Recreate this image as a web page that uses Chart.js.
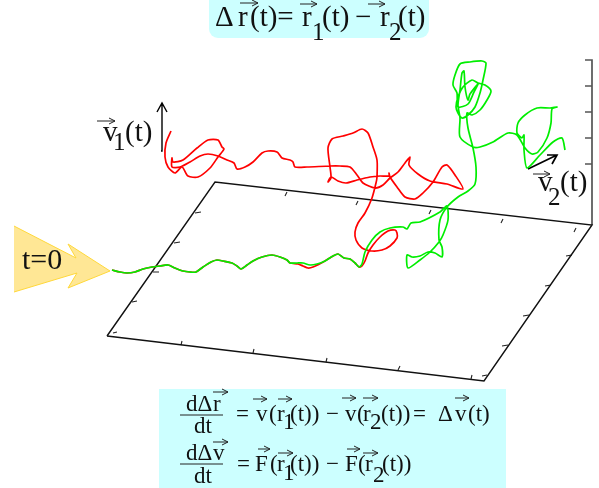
<!DOCTYPE html>
<html><head><meta charset="utf-8">
<script src="https://cdn.jsdelivr.net/npm/chart.js@4"></script>
<style>
html,body{margin:0;padding:0;background:#fff;overflow:hidden}
#wrap{position:relative;width:599px;height:488px;overflow:hidden}
#under,#over{position:absolute;left:0;top:0}
#c{position:absolute;left:0;top:0}
.t{position:absolute;font-family:"Liberation Serif",serif;color:#111;line-height:1;white-space:pre}
</style></head><body>
<div id="wrap">
<svg id="under" width="599" height="488">
 <rect x="209" y="-10" width="220" height="48" rx="9" fill="#ccffff"/>
 <rect x="159" y="389" width="347" height="99" fill="#ccffff"/>
 <polygon points="14,226 76,258 68,244 110,271 68,288 77,273 14,292" fill="#ffe795"/>
 <polyline points="14,226 76,258 68,244 110,271 68,288 77,273 14,292" fill="none" stroke="#ffd83a" stroke-width="1"/>
</svg>
<canvas id="c" width="599" height="488" style="width:599px;height:488px"></canvas>
<svg id="over" width="599" height="488"></svg>
<div id="labels"></div>
</div>
<script>
// Shared start of both trajectories and their separate continuations
const sharedStart=[[112,270],[120,272],[127,273],[135,272],[143,269],[152,267],[160,266],[168,265],[175,268],[183,271],[190,272],[196,272],[203,267],[211,262],[217,260],[223,261],[232,263],[237,266],[241,269],[247,265],[253,261],[262,257],[272,255],[280,257],[287,260],[290,263]];
const greenMiddle=[[297,263],[303,263],[310,265],[317,264],[325,261],[333,256],[338,254],[344,258],[350,259],[355,263],[359,267]];
const redMiddle=[[298,264],[303,266],[308,268],[313,267],[325,261],[333,256],[338,254],[344,258],[350,259],[355,263],[359,267]];
const redTail=[[362,266],[365,261],[368,253],[373,245],[380,237],[388,231],[395,230],[397,233],[397,238],[390,246],[382,250],[372,251],[362,248],[356,240],[355,232],[358,223],[365,213],[372,198],[376,183],[377,177],[377,160],[373,147],[368,133],[362,129],[353,133],[343,136],[332,139],[328,148],[330,167],[331,178],[328,182],[331,177],[338,181],[346,183],[357,180],[370,177],[380,176],[389,176],[389,173],[390,177],[397,187],[405,197],[415,199],[423,193],[433,182],[442,167],[447,165],[455,175],[463,189],[447,184],[430,181],[418,174],[409,165],[410,157],[405,163],[398,172],[390,178],[383,185],[375,188],[363,183],[357,175],[350,167],[340,166],[330,166],[307,167],[295,167],[293,162],[290,160],[282,158],[277,152],[268,151],[262,153],[253,162],[245,167],[237,169],[234,163],[227,160],[218,156],[208,154],[200,156],[190,162],[180,167],[172,167],[172,158],[173,162],[183,160],[197,148],[208,140],[218,140],[222,147],[224,149],[218,157],[210,168],[198,177],[188,176],[182,167],[175,173],[168,167],[165,157],[166,143],[171,131]];
const greenTail=[[362,264],[365,252],[372,240],[380,232],[390,228],[403,227],[407,229],[411,223],[420,222],[440,212],[447,206],[448,220],[443,235],[439,242],[430,252],[420,260],[408,268],[407,255],[412,257],[420,256],[428,252],[435,253],[442,257],[442,247],[439,240],[440,220],[447,207],[458,197],[468,191],[475,184],[476,167],[473,148],[468,128],[467,113],[472,115],[480,110],[487,100],[491,91],[485,85],[478,83],[472,80],[463,87],[458,97],[456,107],[458,113],[462,118],[468,115],[475,107],[480,93],[483,80],[486,63],[482,61],[470,62],[460,64],[455,75],[453,85],[457,93],[458,107],[468,104],[474,92],[478,84],[470,94],[468,100],[465,87],[464,71],[462,73],[460,90],[458,105],[460,118],[460,137],[473,147],[480,147],[493,142],[508,133],[517,135],[525,148],[532,154],[538,152],[547,138],[551,123],[552,109],[557,107],[550,108],[537,108],[525,115],[518,123],[517,133],[522,138],[524,135],[524,150],[527,168],[540,155],[553,142],[562,138],[565,150]];
// Box frame: floor outline and tick marks, NaN separates pieces
const G=[NaN,NaN];
const floorOutline=[[107,336],[484,381],[592,225],[215,182],[107,336]];
const floorTicks=[G,[181,345],[182,341],G,[253,353],[254,349],G,[326,362],[327,358],G,[398,370],[400,366],G,[471,379],[472,375],G,[113,333],[117,332],G,[132,302],[137,301],G,[153,272],[159,272],G,[174,243],[180,242],G,[195,213],[201,212],G,[487,375],[482,376],G,[508,345],[502,346],G,[529,315],[523,316],G,[551,285],[545,286],G,[572,255],[566,256],G,[287,192],[285,196],G,[358,201],[356,205],G,[431,210],[429,214],G,[503,219],[501,223],G,[576,228],[574,232]];
const zAxis=[[592,225],[592,60],[585,60],G,[592,86],[585,86],G,[592,112],[585,112],G,[592,138],[585,138],G,[592,164],[585,164]];
const v1Arrow=[[161,151],[162,103],G,[157,112],[162,103],[167,112]];
const v2Arrow=[[528,169],[557,155],G,[547,155],[557,155],[552,164]];
// Formula text fragments: string, left, baseline, font size
const S=29,E=23;
const textPieces=[
["Δ",215,27,S],["r",238,27,S],["(t)=",250,27,S],["r",302,27,S],["1",312,40,S-4],["(t)",322,27,S],["−",355,27,S],["r",380,27,S],["2",389,40,S-4],["(t)",398,27,S],
["v",103,142,S],["1",113,150,S-4],["(t)",125,142,S],
["v",538,192,S],["2",548,205,S-4],["(t)",560,192,S],
["t=0",22,270,S+1],
["dΔ",186,412,E],["r",213,412,E],["dt",194,434,E],["=",236,422,E],["v",256,422,E],["(",269,422,E],["r",277,422,E],["1",283,430,E],["(t))",290,422,E],["−",326,422,E],["v",345,422,E],["(",357,422,E],["r",363,422,E],["2",370,430,E],["(t))",381,422,E],["=",413,422,E],["Δ",438,422,E],["v",455,422,E],["(t)",468,422,E],
["dΔ",186,461,E],["v",213,461,E],["dt",194,484,E],["=",237,472,E],["F",255,472,E],["(",270,472,E],["r",277,472,E],["1",283,481,E],["(t))",290,472,E],["−",326,472,E],["F",345,472,E],["(",358,472,E],["r",365,472,E],["2",373,483,E],["(t))",382,472,E]
];
const vectorBars=[[240,258,3],[300,317,4],[368,385,4],[97,115,121],[533,550,174],[213,228,392],[253,267,399],[278,292,399],[342,356,398],[363,378,398],[455,469,398],[213,228,442],[258,270,449],[278,293,453],[347,360,449],[363,378,453]];
const fractionBars=[[180,223,415],[180,223,464]];

const pts=a=>a.map(p=>({x:p[0],y:p[1]}));
const curve=(data,color)=>({data:pts(data),borderColor:color,borderWidth:1.7,tension:0.25,pointRadius:0,showLine:true,fill:false,spanGaps:false});
const straight=(data,color,w)=>({data:pts(data),borderColor:color,borderWidth:w,tension:0,pointRadius:0,showLine:true,fill:false,spanGaps:false});
new Chart(document.getElementById('c'),{
 type:'scatter',
 data:{datasets:[
  curve([...sharedStart,...greenMiddle,...greenTail],'#00ee00'),
  curve([...sharedStart,...redMiddle,...redTail],'#ff0000'),
  straight(v1Arrow,'#000',1.4),
  straight(v2Arrow,'#000',1.7),
  straight(floorOutline,'#111',1.4),
  straight(floorTicks,'#222',1.1),
  straight(zAxis,'#555',1.7)
 ]},
 options:{responsive:false,animation:false,devicePixelRatio:1,
  layout:{padding:0},
  plugins:{legend:{display:false},tooltip:{enabled:false},title:{display:false}},
  scales:{x:{type:'linear',min:0,max:599,display:false},y:{type:'linear',min:0,max:488,reverse:true,display:false}}}
});
const box=document.getElementById('labels');
textPieces.forEach(([s,x,y,fs])=>{
 const d=document.createElement('div');d.className='t';d.textContent=s;
 d.style.left=x+'px';d.style.fontSize=fs+'px';
 // line-height 1: Liberation Serif baseline sits ~0.86em below the box top
 d.style.top=(y-fs*0.86)+'px';box.appendChild(d);
});
const svg=document.getElementById('over');let m='';
vectorBars.forEach(([a,b,y])=>{
 m+=`<path d="M${a} ${y}H${b}M${b-6} ${y-3}L${b} ${y}L${b-6} ${y+3}" fill="none" stroke="#222" stroke-width="1"/>`;
});
fractionBars.forEach(([a,b,y])=>{m+=`<path d="M${a} ${y}H${b}" stroke="#222" stroke-width="1"/>`;});
svg.innerHTML=m;
</script>
</body></html>
